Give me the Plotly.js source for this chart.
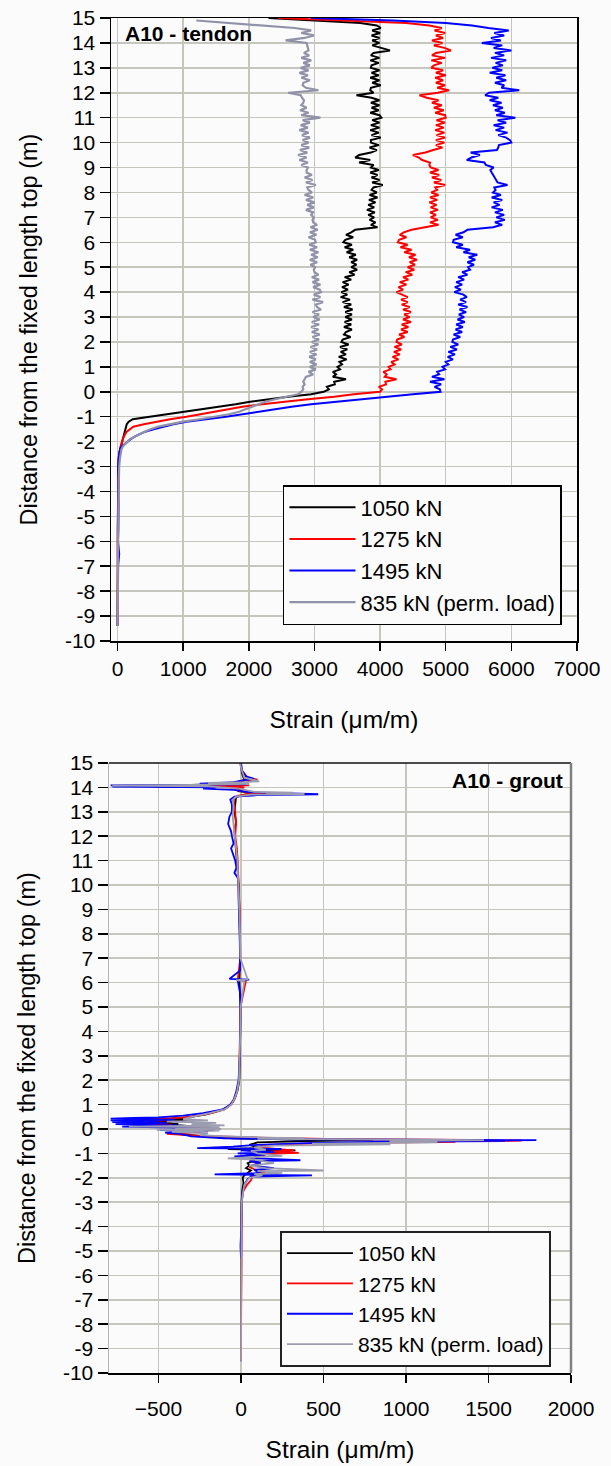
<!DOCTYPE html>
<html><head><meta charset="utf-8">
<script src="https://cdn.plot.ly/plotly-3.0.1.min.js"></script>
<style>html,body{margin:0;padding:0;background:#fbfbfb;overflow:hidden}</style>
</head><body>
<div id="top" style="width:611px;height:735px"></div>
<div id="bot" style="width:611px;height:731px"></div>
<script>
// ---------- DATA ----------
const seriesNames = ['1050 kN', '1275 kN', '1495 kN', '835 kN (perm. load)'];
const xTicksTendon = [0, 1000, 2000, 3000, 4000, 5000, 6000, 7000];
const xTicksGrout = [-500, 0, 500, 1000, 1500, 2000];
const yTicks = [15,14,13,12,11,10,9,8,7,6,5,4,3,2,1,0,-1,-2,-3,-4,-5,-6,-7,-8,-9,-10];

const depthTendon = [
15.0,14.9,14.8,14.7,14.6,14.5,14.4,14.3,14.2,14.1,
14.0,13.9,13.8,13.7,13.6,13.5,13.4,13.3,13.2,13.1,
13.0,12.9,12.8,12.7,12.6,12.5,12.4,12.3,12.2,12.1,
12.0,11.9,11.8,11.7,11.6,11.5,11.4,11.3,11.2,11.1,
11.0,10.9,10.8,10.7,10.6,10.5,10.4,10.3,10.2,10.1,
10.0,9.9,9.8,9.7,9.6,9.5,9.4,9.3,9.2,9.1,
9.0,8.9,8.8,8.7,8.6,8.5,8.4,8.3,8.2,8.1,
8.0,7.9,7.8,7.7,7.6,7.5,7.4,7.3,7.2,7.1,
7.0,6.9,6.8,6.7,6.6,6.5,6.4,6.3,6.2,6.1,
6.0,5.9,5.8,5.7,5.6,5.5,5.4,5.3,5.2,5.1,
5.0,4.9,4.8,4.7,4.6,4.5,4.4,4.3,4.2,4.1,
4.0,3.9,3.8,3.7,3.6,3.5,3.4,3.3,3.2,3.1,
3.0,2.9,2.8,2.7,2.6,2.5,2.4,2.3,2.2,2.1,
2.0,1.9,1.8,1.7,1.6,1.5,1.4,1.3,1.2,1.1,
1.0,0.9,0.8,0.7,0.6,0.5,0.4,0.3,0.2,0.1,
0.0,
-0.1,-0.2,-0.3,-0.4,-0.5,-0.6,-0.7,-0.8,-0.9,-1.0,
-1.1,-1.2,-1.3,-1.4,-1.5,-1.6,-1.7,-1.8,-1.9,-2.0,
-2.1,-2.2,-2.3,-2.4,-2.5,-2.6,-2.7,-2.8,-2.9,-3.0,
-3.5,-4.0,-4.5,-5.0,-5.5,-6.0,-6.5,-7.0,-7.5,-8.0,-8.5,-9.0,-9.4
];

const tendon1050 = [
2300,3100,3700,3950,4010,3880,4000,3870,3990,3880,
3990,3880,4020,4150,3900,3860,3990,3850,3980,3870,
3860,3990,3870,3980,3850,3990,3880,4010,3860,3850,
3900,3640,3870,3990,3860,3990,3870,3980,3850,3990,
4020,3880,3990,3860,3990,3850,3980,3870,4010,3860,
3860,3980,3840,3950,3860,3680,3620,3850,3680,3900,
3860,3980,3850,3960,3870,3990,3880,4040,3900,3870,
3950,3840,3960,3830,3930,3820,3910,3800,3920,3820,
3910,3840,3930,3860,3960,3620,3560,3480,3590,3470,
3440,3570,3460,3590,3490,3630,3530,3650,3560,3640,
3560,3650,3530,3610,3460,3560,3430,3520,3420,3510,
3410,3500,3400,3540,3430,3560,3450,3580,3470,3570,
3470,3570,3460,3560,3450,3570,3480,3450,3550,3430,
3410,3520,3390,3500,3400,3480,3370,3490,3380,3420,
3350,3390,3280,3330,3280,3480,3300,3310,3190,3220,
3140,
2950,2600,2300,2020,1800,1550,1300,1000,750,500,
230,170,140,130,120,100,90,80,70,60,
50,45,40,30,25,20,20,15,15,10,
10,5,8,5,3,6,4,5,3,4,2,3,2
];

const tendon1275 = [
2450,3400,4400,4750,4940,4830,4990,4850,4960,4790,
4950,4820,4980,5080,4850,4790,4990,4780,4940,4820,
4780,4960,4850,5000,4840,4960,4850,4990,4870,5050,
4880,4600,4710,4890,4790,4940,4820,4970,4840,4990,
5000,4860,4990,4850,4970,4840,4980,4860,4990,4850,
4980,4850,4950,4810,4690,4500,4590,4640,4760,4750,
4770,4890,4760,4900,4790,4930,4820,4990,4840,4870,
4780,4890,4760,4870,4750,4860,4770,4880,4760,4850,
4770,4880,4760,4890,4710,4480,4360,4300,4400,4290,
4270,4420,4310,4480,4370,4540,4440,4560,4450,4530,
4420,4520,4390,4490,4350,4430,4300,4400,4280,4350,
4250,4350,4420,4320,4420,4330,4450,4350,4470,4370,
4450,4350,4470,4330,4430,4320,4420,4290,4370,4260,
4250,4330,4220,4320,4210,4300,4190,4280,4170,4220,
4130,4160,4050,4100,4070,4250,4080,4090,3980,4030,
4000,
3600,3300,2900,2500,2200,1900,1700,1500,1250,1050,
800,590,400,240,180,140,115,95,80,70,
55,45,40,30,25,20,15,15,10,10,
8,6,5,4,5,3,4,3,2,3,2,2,1
];

const tendon1495 = [
2950,4200,5000,5400,5650,5960,5740,5890,5690,5840,
5550,5860,5730,6000,5750,5890,5690,5920,5760,5870,
5710,5860,5670,5910,5770,5920,5750,5890,5850,6120,
5660,5600,5800,5670,5850,5720,5870,5750,5900,5770,
6060,5790,5920,5730,5890,5760,5940,5800,5920,5980,
6000,5810,5800,5780,5380,5520,5390,5320,5590,5610,
5730,5680,5700,5720,5750,5760,5790,5940,5740,5760,
5720,5840,5700,5860,5730,5820,5700,5870,5750,5890,
5770,5900,5750,5860,5720,5330,5270,5150,5260,5120,
5110,5260,5160,5370,5270,5480,5350,5450,5330,5430,
5340,5370,5250,5330,5190,5280,5160,5250,5140,5230,
5130,5270,5320,5220,5310,5190,5330,5210,5310,5200,
5280,5180,5290,5160,5260,5150,5250,5120,5220,5110,
5100,5190,5070,5170,5040,5140,5030,5110,5000,5040,
4950,4990,4870,4900,4790,4980,4760,4930,4830,4910,
4920,
4500,4100,3700,3300,2950,2650,2400,2200,1950,1650,
1350,1050,850,680,550,420,330,260,200,150,
100,60,40,30,25,20,18,15,12,10,
20,10,15,8,12,6,25,8,5,6,4,5,3
];

const tendon835 = [
null,1200,1700,2300,2700,2950,2800,2990,2850,2560,
2880,2890,2900,2910,2840,2920,2800,2950,2830,2930,
2790,2910,2770,2900,2800,2930,2830,2820,2870,3060,
2600,2790,2810,2840,2830,2800,2880,2780,2910,2800,
3090,2820,2930,2790,2900,2770,2910,2810,2930,2820,
2910,2800,2920,2780,2890,2750,2880,2770,2900,2800,
2900,2880,2880,2960,2850,2970,2870,3020,2890,2910,
2960,2850,2980,2870,3000,2890,2990,2870,2980,2950,
2990,2970,2980,3040,2940,3050,2930,3030,2910,3010,
3020,2920,3040,2930,3060,2950,3050,2930,3040,2940,
3010,2990,3000,3060,2960,3070,2970,3090,2980,3080,
3100,2990,3090,2970,3130,3020,3040,3100,2970,3070,
2980,3080,2960,3070,2950,3060,2960,3080,2970,3070,
2960,3060,2940,3040,2930,3030,2920,3020,2930,3030,
2930,3020,2910,2980,2870,2850,2830,2850,2820,2830,
2800,
2750,2550,2400,2250,2150,2050,1950,1850,1700,1500,
1250,1000,800,620,500,400,330,260,190,150,
110,80,60,50,45,40,35,30,30,25,
20,15,12,10,10,8,8,6,5,5,4,4,3
];

// grout: [depth (m), strain (µm/m)]
const grout1050 = [
[15.0,0],[14.6,5],[14.3,20],[14.15,-60],[14.1,-300],[14.07,-100],[14.04,-530],[14.02,-50],[14.0,10],
[13.85,-20],[13.78,40],[13.74,100],[13.7,20],[13.6,-30],[13.3,-35],[13.0,-40],[12.6,-30],[12.2,-40],
[11.8,-35],[11.4,-30],[11.0,-25],[10.5,-18],[10.0,-14],[9.0,-10],[8.0,-8],[7.0,-5],[6.1,-10],[5.0,-3],
[4.0,-4],[3.0,-5],[2.0,-10],[1.6,-20],[1.3,-35],[1.1,-50],[0.9,-80],[0.75,-130],[0.6,-210],[0.5,-300],
[0.42,-420],[0.38,-300],[0.34,-560],[0.3,-420],[0.26,-500],[0.22,-380],[0.18,-430],[0.12,-300],[0.06,-200],
[0.0,-150],[-0.1,-250],[-0.2,-400],[-0.3,-200],[-0.38,-50],[-0.42,250],[-0.46,800],[-0.5,400],[-0.55,100],
[-0.65,50],[-0.7,80],[-0.78,120],[-0.82,-80],[-0.88,330],[-0.92,150],[-0.98,250],[-1.05,120],[-1.12,100],
[-1.2,60],[-1.3,80],[-1.4,40],[-1.5,50],[-1.6,30],[-1.7,60],[-1.8,40],[-1.9,20],[-2.0,10],[-2.2,15],
[-2.5,8],[-3.0,3],[-4.0,2],[-5.0,1],[-6.0,1],[-7.0,0],[-8.0,1],[-9.0,0],[-9.5,0]
];
const grout1275 = [
[15.0,-5],[14.7,5],[14.4,40],[14.32,100],[14.28,10],[14.2,-30],[14.12,-250],[14.08,50],[14.05,-400],
[14.02,-150],[14.0,20],[13.9,-40],[13.8,50],[13.75,180],[13.72,40],[13.65,-20],[13.5,-45],[13.0,-35],
[12.5,-30],[12.0,-35],[11.5,-25],[11.0,-20],[10.0,-12],[9.0,-8],[8.0,-6],[7.0,-4],[6.12,-20],[6.08,30],
[5.0,-3],[4.0,-5],[3.0,-6],[2.0,-12],[1.5,-25],[1.2,-40],[1.0,-60],[0.8,-100],[0.65,-180],[0.55,-260],
[0.47,-350],[0.42,-480],[0.38,-620],[0.35,-450],[0.3,-700],[0.26,-520],[0.22,-600],[0.18,-420],[0.14,-560],
[0.08,-300],[0.02,-200],[-0.05,-350],[-0.12,-250],[-0.2,-450],[-0.28,-250],[-0.35,100],[-0.42,600],
[-0.45,1400],[-0.48,1700],[-0.5,1000],[-0.53,1300],[-0.58,500],[-0.65,150],[-0.75,100],[-0.82,200],
[-0.88,320],[-0.92,180],[-0.98,350],[-1.02,150],[-1.1,120],[-1.2,90],[-1.3,60],[-1.45,110],[-1.55,50],
[-1.65,80],[-1.75,150],[-1.85,100],[-1.95,70],[-2.1,60],[-2.3,35],[-2.6,10],[-3.0,5],[-4.0,3],[-5.0,2],
[-6.0,1],[-7.0,1],[-8.0,0],[-9.0,1],[-9.5,0]
];
const grout1495 = [
[15.0,0],[14.7,5],[14.45,30],[14.35,80],[14.3,20],[14.2,-60],[14.15,-250],[14.12,30],[14.08,-790],
[14.05,-300],[14.03,-780],[14.0,-150],[13.95,-230],[13.9,-40],[13.8,60],[13.75,300],[13.72,468],[13.68,100],
[13.62,-40],[13.5,-65],[13.3,-55],[13.0,-55],[12.8,-70],[12.5,-78],[12.2,-60],[12.0,-55],[11.7,-45],
[11.5,-60],[11.2,-45],[11.0,-35],[10.7,-28],[10.5,-40],[10.3,-20],[10.0,-16],[9.5,-15],[9.0,-12],[8.0,-8],
[7.0,-6],[6.5,-5],[6.15,-70],[6.12,50],[6.08,-20],[5.5,-3],[4.0,-5],[3.0,-7],[2.0,-15],[1.5,-30],[1.2,-45],
[1.0,-65],[0.8,-110],[0.65,-230],[0.55,-350],[0.48,-500],[0.45,-650],[0.42,-790],[0.38,-400],[0.35,-790],
[0.32,-500],[0.28,-780],[0.25,-450],[0.2,-760],[0.15,-380],[0.1,-720],[0.05,-350],[0.0,-180],[-0.05,-490],
[-0.1,-200],[-0.15,-460],[-0.2,-370],[-0.3,-300],[-0.38,-100],[-0.42,300],[-0.44,900],[-0.46,1790],
[-0.48,1100],[-0.5,1600],[-0.53,800],[-0.58,400],[-0.65,100],[-0.72,-50],[-0.78,-265],[-0.82,245],
[-0.88,0],[-0.95,200],[-1.0,-20],[-1.05,150],[-1.12,-40],[-1.2,100],[-1.28,360],[-1.32,50],[-1.4,120],
[-1.5,60],[-1.6,200],[-1.68,80],[-1.8,120],[-1.86,-160],[-1.9,430],[-1.95,60],[-2.05,40],[-2.3,20],
[-2.6,10],[-3.0,5],[-4.0,2],[-4.8,-3],[-5.3,0]
];
const grout835 = [
[15.0,-5],[14.8,0],[14.6,10],[14.4,20],[14.25,110],[14.22,20],[14.18,-200],[14.15,50],[14.1,-300],
[14.07,-780],[14.04,-200],[14.0,-100],[13.95,-10],[13.82,80],[13.78,314],[13.76,150],[13.73,385],[13.7,60],
[13.62,-30],[13.5,-50],[13.2,-45],[12.8,-50],[12.4,-45],[12.0,-40],[11.5,-30],[11.0,-22],[10.0,-14],
[9.0,-10],[8.0,-6],[7.0,-4],[6.13,40],[6.1,-30],[6.05,20],[5.0,-2],[4.0,-4],[3.0,-6],[2.0,-12],[1.5,-25],
[1.2,-42],[1.0,-60],[0.8,-100],[0.65,-190],[0.55,-270],[0.45,-330],[0.4,-350],[0.35,-200],[0.3,-450],
[0.25,-150],[0.2,-300],[0.15,-100],[0.1,-680],[0.08,-130],[0.04,-400],[0.0,-120],[-0.03,-510],[-0.07,-130],
[-0.12,-420],[-0.18,-200],[-0.25,-250],[-0.3,-100],[-0.35,150],[-0.38,385],[-0.4,100],[-0.43,700],
[-0.46,1473],[-0.5,900],[-0.55,1190],[-0.6,430],[-0.63,905],[-0.68,200],[-0.75,80],[-0.85,150],[-0.9,60],
[-1.0,100],[-1.1,250],[-1.2,-80],[-1.25,80],[-1.4,200],[-1.5,50],[-1.6,150],[-1.7,500],[-1.73,100],
[-1.8,250],[-1.85,80],[-1.9,130],[-2.0,50],[-2.3,20],[-2.7,10],[-3.0,5],[-4.0,3],[-5.0,2],[-6.0,1],
[-7.0,0],[-8.0,1],[-9.0,0],[-9.55,0]
];

// ---------- STYLE ----------
const colors = ['#000000', '#ff0000', '#0000ff', '#9191aa'];
const FONT = 'Arial, "Liberation Sans", Helvetica, sans-serif';
const BG = '#fbfbfb';
const GRID = '#c6c6be';

const tendonSeries = [tendon1050, tendon1275, tendon1495, tendon835];
const groutSeries = [grout1050, grout1275, grout1495, grout835];

const topTraces = tendonSeries.map((s, i) => ({
  type: 'scatter', mode: 'lines', name: seriesNames[i],
  x: s, y: depthTendon, connectgaps: false,
  line: {color: colors[i], width: i === 3 ? 2.2 : 2}
}));

const botTraces = groutSeries.map((s, i) => ({
  type: 'scatter', mode: 'lines', name: seriesNames[i],
  x: s.map(p => p[1]), y: s.map(p => p[0]),
  line: {color: i === 3 ? '#9c9cb0' : colors[i], width: 1.8}
}));

function yAxis(extra) {
  return Object.assign({
    range: [-10, 15], tickvals: yTicks, ticktext: yTicks.map(String),
    showgrid: true, gridcolor: GRID, gridwidth: 1.5, zeroline: false,
    ticks: 'outside', ticklen: 10, tickwidth: 1.5, tickcolor: '#000',
    tickfont: {family: FONT, size: 21, color: '#000'},
    title: {text: 'Distance from the fixed length top (m)', font: {family: FONT, size: 23.5, color: '#000'}, standoff: 20}
  }, extra);
}

const topLayout = {
  width: 611, height: 735,
  margin: {l: 111, r: 34, t: 18, b: 94},
  paper_bgcolor: BG, plot_bgcolor: BG,
  showlegend: true,
  font: {family: FONT, color: '#000'},
  xaxis: {
    range: [-100, 7000], tickvals: xTicksTendon,
    showgrid: true, gridcolor: GRID, gridwidth: 1.5, zeroline: false,
    ticks: 'outside', ticklen: 8, tickwidth: 1.5, tickcolor: '#000',
    showline: true, linecolor: '#000', linewidth: 1.5, mirror: true,
    tickfont: {family: FONT, size: 21, color: '#000'},
    title: {text: 'Strain (μm/m)', font: {family: FONT, size: 24.5, color: '#000'}, standoff: 32}
  },
  yaxis: yAxis({showline: true, linecolor: '#000', linewidth: 1.5, mirror: true}),
  legend: {
    x: 0.369, y: 0.2504, xanchor: 'left', yanchor: 'top',
    bgcolor: BG, bordercolor: '#000', borderwidth: 1.5,
    font: {family: FONT, size: 22, color: '#000'}, itemwidth: 66
  },
  annotations: [{
    text: '<b>A10 - tendon</b>', xref: 'paper', yref: 'paper',
    x: 0.026, y: 0.996, xanchor: 'left', yanchor: 'top', showarrow: false,
    font: {family: FONT, size: 21, color: '#000'}
  }]
};

const botLayout = {
  width: 611, height: 731,
  margin: {l: 109, r: 40, t: 28, b: 93},
  paper_bgcolor: BG, plot_bgcolor: BG,
  showlegend: true,
  font: {family: FONT, color: '#000'},
  xaxis: {
    range: [-800, 2000], tickvals: xTicksGrout,
    showgrid: true, gridcolor: GRID, gridwidth: 1.5, zeroline: false,
    ticks: 'outside', ticklen: 8, tickwidth: 1.5, tickcolor: '#000',
    ticklabelstandoff: 8,
    showline: true, linecolor: '#000', linewidth: 1.5, mirror: false,
    tickfont: {family: FONT, size: 21, color: '#000'},
    title: {text: 'Strain (μm/m)', font: {family: FONT, size: 24.5, color: '#000'}, standoff: 22}
  },
  yaxis: yAxis({showline: true, linecolor: '#b4b4b4', linewidth: 1.5, mirror: false}),
  legend: {
    x: 0.37, y: 0.2328, xanchor: 'left', yanchor: 'top',
    bgcolor: BG, bordercolor: '#222', borderwidth: 2,
    font: {family: FONT, size: 21, color: '#000'}, itemwidth: 66
  },
  shapes: [
    {type: 'line', xref: 'paper', yref: 'paper', x0: 0, x1: 1, y0: 1, y1: 1, line: {color: '#111', width: 1.5}},
    {type: 'line', xref: 'paper', yref: 'paper', x0: 1, x1: 1, y0: 0, y1: 1, line: {color: '#808080', width: 2.5}}
  ],
  annotations: [{
    text: '<b>A10 - grout</b>', xref: 'paper', yref: 'paper',
    x: 0.988, y: 0.972, xanchor: 'right', yanchor: 'middle', showarrow: false,
    font: {family: FONT, size: 21, color: '#000'}
  }]
};

const cfg = {staticPlot: true, displayModeBar: false};
Plotly.newPlot('top', topTraces, topLayout, cfg);
Plotly.newPlot('bot', botTraces, botLayout, cfg);
</script>
</body></html>
